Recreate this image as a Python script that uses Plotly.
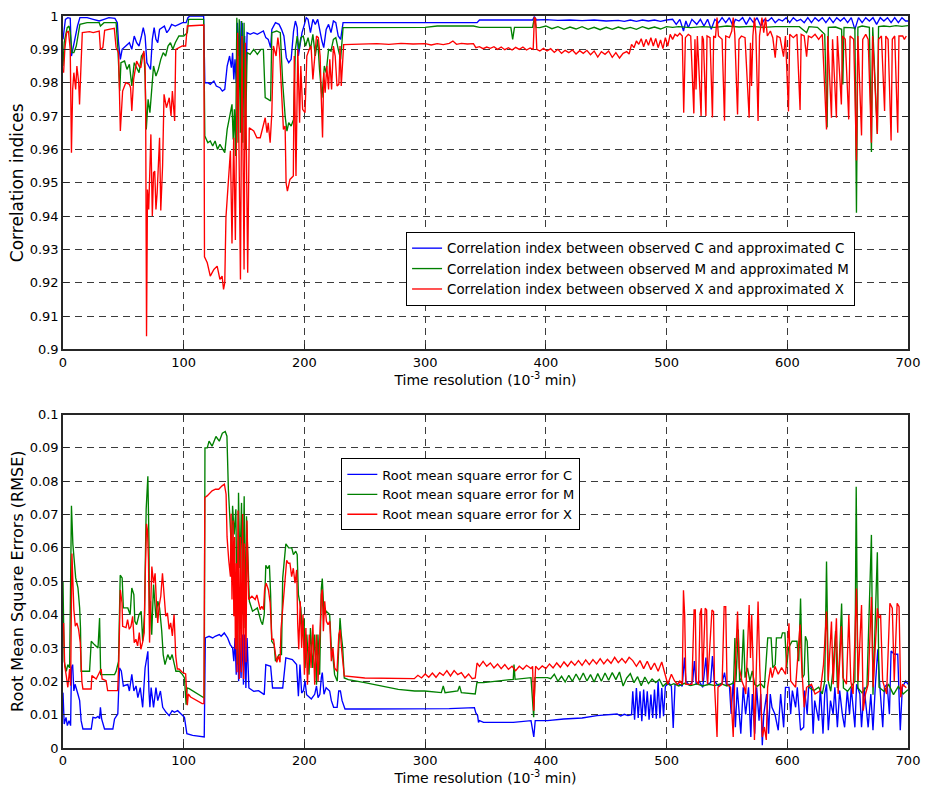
import plotly.graph_objects as go

# ---------------- tick definitions ----------------
x_ticks = [0, 100, 200, 300, 400, 500, 600, 700]
corr_ticks = [0.90, 0.91, 0.92, 0.93, 0.94, 0.95, 0.96, 0.97, 0.98, 0.99, 1.0]
corr_tick_labels = ["0.9", "0.91", "0.92", "0.93", "0.94", "0.95", "0.96", "0.97", "0.98", "0.99", "1"]
rmse_ticks = [0, 0.01, 0.02, 0.03, 0.04, 0.05, 0.06, 0.07, 0.08, 0.09, 0.1]
rmse_tick_labels = ["0", "0.01", "0.02", "0.03", "0.04", "0.05", "0.06", "0.07", "0.08", "0.09", "0.1"]

# ---------------- correlation index, C (blue) ----------------
corr_C = [(0,0.993),(1,0.997),(2,0.999),(4,0.9995),(6,0.9993),(7,0.988),(8,0.990),(10,0.993),(12,0.997),(14,0.9995),
(20,0.9995),(25,0.999),(30,0.9985),(34,0.999),(38,0.9995),(43,0.9993),(45,0.998),(46,0.992),(47.5,0.987),(49,0.990),
(52,0.991),(55,0.992),(57,0.990),(59,0.994),(61,0.992),(63,0.991),(65,0.994),(66.5,0.9965),(68,0.994),(69.5,0.986),
(71,0.985),(72.5,0.984),(74,0.993),(75.5,0.9965),(77,0.993),(78.5,0.992),(80,0.996),(82,0.9965),(84,0.997),(86,0.995),
(88,0.996),(90,0.9975),(93,0.997),(96,0.9975),(99,0.998),(102,0.998),(103.5,0.9995),(105,1.0),(116.5,1.0),(117.5,0.980),
(120,0.980),(122,0.9795),(125,0.9805),(127,0.979),(130,0.9785),(132,0.9775),(134,0.978),(136,0.985),(138,0.988),(139.5,0.9845),
(140.5,0.989),(141.5,0.981),(142.5,0.987),(143.5,0.980),(144.5,0.998),(145.5,0.988),(146.5,0.9985),(147.5,0.984),(148.5,0.998),(149.5,0.986),
(150.5,0.994),(151.5,0.979),(152.5,0.995),(155,0.9945),(158,0.995),(161,0.9945),(164,0.995),(166,0.9955),(168,0.9935),(170,0.993),
(172,0.9905),(173,0.996),(176,0.998),(179,0.9975),(181,0.996),(183,0.994),(185,0.9875),(187,0.986),(189,0.987),(191,0.9955),
(192.5,0.9985),(194,0.9965),(195,0.988),(196.5,0.992),(198,0.995),(200,0.9975),(201.5,0.9995),(203,0.999),(205,0.995),(207,0.999),
(209,0.9975),(211,0.999),(213,0.995),(214.5,0.9925),(216,0.9905),(218,0.996),(220,0.9975),(222,0.995),(224,0.9985),(226,0.998),
(228,0.994),(230,0.993),(232,0.998),(300,0.998),(343,0.998),(345,0.9988),(389,0.9988),(390.5,0.9998),(392,0.9988),(400,0.9989),
(410,0.9987),(420,0.9988),(430,0.9986),(440,0.9988),(450,0.9985),(460,0.9987),(465,0.9984),(470,0.9988),(475,0.9984),(480,0.9988),
(485,0.9985),(490,0.9988),(495,0.9984),(500,0.9988),(505,0.999),(508,0.9975),(511,0.999),(514,0.9955),(516,0.9985),(518,0.9965),
(521,0.999),(525,0.9975),(528,0.999),(531,0.997),(534,0.999),(537,0.996),(540,0.999),(543,0.998),(546,0.9995),(549,0.998),
(552,0.9995),(555,0.997),(557,0.999),(560,0.9985),(563,0.9995),(566,0.9975),(569,0.9995),(572,0.998),(575,0.9995),(578,0.997),
(581,0.999),(584,0.9985),(587,0.9995),(590,0.998),(593,0.999),(596,0.9985),(599,0.9995),(602,0.998),(605,0.9995),(608,0.9985),
(611,0.999),(614,0.998),(617,0.9995),(620,0.998),(623,0.9995),(626,0.9985),(629,0.9995),(632,0.998),(635,0.9995),(638,0.998),
(641,0.9995),(644,0.9985),(647,0.9995),(650,0.998),(653,0.9995),(656,0.996),(659,0.9995),(662,0.998),(665,0.9995),(668,0.9985),
(671,0.9995),(674,0.9975),(677,0.9995),(680,0.9985),(683,0.9995),(686,0.998),(689,0.9995),(692,0.998),(695,0.9995),(698,0.9985),(700,0.9985)]

# ---------------- correlation index, M (green) ----------------
corr_M = [(0,0.985),(1,0.992),(2,0.994),(3.5,0.9965),(5,0.997),(6,0.995),(7.5,0.989),(9,0.989),(11,0.991),(12.5,0.994),
(14,0.9975),(20,0.998),(30,0.998),(31,0.997),(34,0.998),(44,0.998),(45.5,0.990),(47,0.9775),(48,0.986),(51,0.9865),
(53,0.984),(55,0.9855),(57,0.979),(59,0.986),(61,0.9845),(63,0.983),(65,0.988),(67,0.989),(68,0.982),(69,0.966),
(70.5,0.975),(72,0.971),(73.5,0.978),(75,0.985),(77,0.982),(79,0.984),(81,0.987),(83,0.989),(85,0.988),(87,0.991),
(89,0.992),(91,0.990),(93,0.992),(96,0.994),(100,0.994),(103,0.995),(104,0.999),(116.5,0.999),(117.5,0.964),(120,0.962),
(122,0.9625),(124,0.961),(126,0.9625),(128,0.960),(130,0.9615),(132,0.960),(134,0.959),(136,0.966),(138,0.9695),(140,0.9735),
(141,0.963),(142,0.972),(143,0.958),(144,0.9995),(145,0.962),(146,0.999),(147,0.965),(148,0.9985),(149,0.962),(150,0.998),
(151,0.960),(152.5,0.989),(155,0.9885),(158,0.990),(161,0.9885),(164,0.990),(166,0.990),(167.5,0.9755),(170,0.975),(172,0.9745),
(173,0.995),(177,0.9955),(180,0.995),(182,0.980),(184,0.970),(185.5,0.9655),(187,0.968),(189,0.967),(191,0.969),(192.5,0.990),
(194,0.994),(195.5,0.990),(197,0.9935),(199,0.994),(201,0.991),(203,0.9935),(205,0.990),(207,0.9945),(209,0.988),(211,0.993),
(212.5,0.984),(214.5,0.9755),(216.5,0.985),(218,0.983),(220,0.990),(222,0.9895),(224,0.993),(226,0.9935),(228,0.990),(230,0.987),
(232,0.9965),(300,0.9966),(310,0.997),(340,0.997),(345,0.9966),(371,0.9966),(372.5,0.993),(374,0.9966),(389,0.9966),(390.5,0.9995),
(392,0.9966),(395,0.9965),(400,0.997),(405,0.9962),(410,0.9968),(415,0.996),(420,0.9967),(425,0.9961),(430,0.9968),(435,0.996),
(440,0.9966),(445,0.9959),(450,0.9966),(455,0.996),(460,0.9967),(465,0.9961),(470,0.9966),(475,0.996),(480,0.9968),(485,0.9962),
(490,0.9967),(495,0.9961),(500,0.9968),(505,0.9966),(510,0.9968),(520,0.9965),(530,0.9968),(540,0.9966),(550,0.997),(560,0.9967),
(570,0.9969),(580,0.9966),(590,0.9968),(600,0.9967),(610,0.9968),(616,0.995),(618,0.9968),(625,0.9966),(631,0.9945),(633,0.9666),
(634,0.9966),(640,0.9967),(645,0.996),(646,0.9795),(647,0.9966),(652,0.9965),(656,0.9964),(657.3,0.941),(658.5,0.9966),(662,0.997),
(668,0.9966),(669.7,0.9592),(670.8,0.9966),(674.6,0.9646),(675.6,0.9968),(680,0.997),(685,0.9968),(690,0.9971),(695,0.9969),(700,0.9971)]

# ---------------- correlation index, X (red) ----------------
corr_X = [(0.5,0.983),(1.5,0.990),(3,0.995),(4.5,0.9955),(6,0.990),(7,0.959),(8,0.978),(9,0.983),(10.5,0.978),(11.5,0.985),
(13,0.980),(13.7,0.9735),(15,0.986),(16,0.995),(22,0.9953),(25,0.995),(30,0.9955),(31,0.990),(33,0.9905),(34.5,0.9957),
(38,0.996),(42.5,0.9963),(44,0.9905),(46,0.989),(47.5,0.9655),(49.4,0.9775),(52,0.980),(55,0.9795),(56,0.9785),(57,0.9715),
(58.5,0.981),(61,0.9865),(63,0.985),(64.5,0.9845),(66,0.988),(67,0.9895),(68,0.985),(68.5,0.970),(69.2,0.904),(70,0.948),
(71,0.942),(72.8,0.9645),(74,0.940),(75,0.953),(76,0.9535),(77,0.942),(78,0.947),(80,0.9635),(81,0.9417),(82.5,0.955),
(83.7,0.9765),(85.7,0.9725),(88,0.9755),(89.5,0.970),(90.6,0.9775),(92.5,0.9685),(93.4,0.990),(96,0.9905),(98.8,0.991),(101.6,0.991),
(103,0.997),(116.7,0.9973),(117.2,0.9278),(119.5,0.926),(122,0.922),(125,0.924),(127.7,0.925),(130,0.921),(131.8,0.922),(133,0.918),
(134,0.920),(135,0.9397),(137.3,0.9516),(138.7,0.9596),(140,0.9318),(141.4,0.9635),(142.8,0.9328),(144.7,0.995),(147,0.921),(148.3,0.994),
(150,0.924),(151,0.992),(153,0.923),(154.3,0.9665),(158,0.9655),(160.6,0.9635),(163.4,0.9635),(165.5,0.967),(167.5,0.9695),(169,0.965),
(170,0.968),(171.6,0.962),(173,0.971),(174.3,0.991),(176.5,0.988),(178,0.9935),(179.3,0.990),(182.6,0.966),(184,0.967),(184.8,0.950),
(185.9,0.9475),(188,0.951),(190.8,0.952),(191.6,0.988),(193,0.952),(194.5,0.990),(196,0.968),(197,0.985),(198.5,0.972),(200.5,0.971),
(202,0.988),(204,0.990),(205.5,0.991),(207,0.981),(208.5,0.987),(210,0.994),(211.5,0.9935),(213,0.988),(214,0.975),(215,0.9636),
(216,0.983),(217.2,0.977),(218.5,0.985),(220,0.978),(221,0.987),(222.5,0.978),(224,0.991),(225.5,0.988),(227,0.979),(228.5,0.9795),
(229.5,0.991),(230.5,0.979),(232.5,0.9914),(260,0.9917),(270,0.9915),(280,0.9918),(290,0.9916),(300,0.9917),(305,0.9913),(310,0.9917),
(315,0.9914),(320,0.9918),(323,0.9925),(326,0.9915),(330,0.9918),(335,0.9916),(340,0.9917),(342,0.9905),(345,0.9908),(348,0.9902),
(351,0.9907),(354,0.9903),(357,0.9908),(360,0.990),(363,0.9907),(366,0.9899),(369,0.9905),(372,0.9898),(375,0.9906),(378,0.990),
(381,0.9907),(384,0.9898),(387,0.9904),(389.5,0.990),(390.5,0.9995),(391.5,0.9993),(392.5,0.990),(395,0.9895),(398,0.9903),(401,0.9895),
(404,0.9902),(407,0.9891),(410,0.990),(413,0.9888),(416,0.9897),(419,0.989),(422,0.9898),(425,0.9886),(428,0.9896),(431,0.9888),
(434,0.9897),(437,0.9884),(440,0.9895),(443,0.9877),(446,0.9893),(449,0.9885),(452,0.9895),(455,0.9876),(458,0.989),(461,0.9874),
(464,0.9888),(467,0.9893),(469,0.9886),(471,0.9915),(473,0.9905),(475,0.9925),(477,0.9915),(479,0.9932),(481,0.9908),(483,0.993),
(485,0.9912),(487,0.9935),(489,0.991),(491,0.9933),(493,0.9905),(495,0.9928),(497,0.9902),(499,0.9935),(501,0.991),(503,0.9945),
(505,0.993),(507,0.9945),(509,0.994),(511,0.9948),(513,0.994),(514.2,0.971),(515.6,0.9935),(518,0.9945),(520,0.994),(522.6,0.9708),
(523.5,0.993),(524.4,0.978),(525.5,0.994),(528.6,0.970),(529.5,0.994),(530.5,0.993),(532.6,0.970),(533.5,0.994),(536,0.9935),(538,0.9696),
(539,0.994),(540.5,0.9935),(541.8,0.9995),(543,0.994),(546,0.993),(548,0.9686),(549,0.994),(552,0.9935),(554,0.9955),(555.2,0.9995),
(556.5,0.9945),(558.8,0.9705),(560,0.993),(562,0.994),(565,0.9935),(568.4,0.9695),(569.5,0.992),(570.4,0.979),(571.5,0.994),(572.8,0.9995),
(574,0.9945),(575.8,0.9685),(577,0.994),(579,0.9995),(580.5,0.995),(582,0.9995),(583.5,0.994),(586,0.9955),(588,0.9935),(590,0.9875),
(591.5,0.994),(594,0.9935),(596.9,0.9878),(598.5,0.994),(601,0.9714),(602,0.9945),(605,0.9935),(608,0.9945),(610.6,0.9718),(611.5,0.9945),
(614,0.994),(616,0.9878),(617.5,0.994),(620,0.9935),(623,0.9945),(626,0.993),(629,0.9945),(632.5,0.966),(633.5,0.994),(636.6,0.9695),
(637.5,0.993),(640.7,0.9695),(641.5,0.994),(644.8,0.9735),(645.8,0.994),(648,0.993),(650.9,0.969),(652,0.994),(655,0.993),(657.3,0.9567),
(658.5,0.994),(661.5,0.9642),(662.5,0.993),(665,0.9945),(667,0.993),(669.7,0.962),(670.7,0.994),(674.6,0.9646),(675.6,0.993),(678,0.994),
(680.6,0.9715),(681.6,0.994),(683.5,0.993),(686,0.9627),(687,0.993),(689,0.994),(691.5,0.965),(692.5,0.994),(695.6,0.994),(697,0.993),(698.6,0.994)]

# ---------------- RMSE, C (blue) ----------------
rmse_C = [(0,0.0166),(1,0.0072),(2.5,0.0092),(3.6,0.0067),(5,0.0082),(6.3,0.0067),(7,0.024),(8,0.025),(9,0.0171),(10,0.0191),
(12.4,0.0161),(13.8,0.0142),(15,0.0082),(16.5,0.0057),(23.4,0.0057),(24.8,0.0092),(27,0.0090),(29,0.0095),(30.3,0.0088),(31,0.0122),
(32,0.0087),(34.4,0.0057),(41.3,0.0057),(42.7,0.0087),(45.4,0.0102),(46.8,0.024),(48.3,0.0231),(50,0.0186),(53.7,0.0191),(55,0.0171),
(57,0.0221),(58.7,0.0171),(60.5,0.0186),(62,0.0151),(64,0.0181),(66,0.0122),(68,0.024),(70.3,0.029),(71.2,0.0171),(72,0.0122),
(73,0.0181),(75,0.0122),(77,0.0181),(78.5,0.0142),(80.7,0.0171),(82.6,0.0122),(85.4,0.0107),(88,0.0097),(90.4,0.0112),(92.3,0.0107),
(95,0.0112),(97.8,0.0102),(100.6,0.0092),(102.6,0.0043),(107.4,0.0038),(117,0.0033),(117.9,0.033),(121,0.0335),(124,0.033),(126,0.0335),
(129.5,0.034),(131,0.0335),(133.6,0.0345),(136.4,0.033),(138.5,0.031),(140.5,0.030),(141.5,0.026),(142.5,0.033),(143.5,0.022),(144.5,0.034),
(145.5,0.020),(146.5,0.033),(147.5,0.021),(148.5,0.034),(149.5,0.019),(150.5,0.034),(151.5,0.018),(152.5,0.033),(154,0.018),(158,0.017),
(162,0.0172),(166.7,0.016),(168,0.025),(172,0.0245),(173.6,0.018),(182,0.018),(184.6,0.027),(190,0.0265),(193.5,0.025),(195,0.0155),
(196.3,0.025),(197.7,0.0165),(199.2,0.0172),(200.5,0.0201),(201.8,0.016),(203,0.0156),(205.7,0.0147),(208.5,0.0161),(210,0.0186),(211.3,0.0151),
(212.8,0.0161),(214,0.0211),(214.8,0.0226),(216.2,0.0161),(218,0.0181),(220.9,0.0171),(222.3,0.0142),(224.2,0.0122),(227.1,0.0122),(228.4,0.0171),
(229.8,0.0171),(231.2,0.0142),(233.6,0.0117),(250,0.0117),(277.7,0.0117),(300,0.0116),(320,0.0118),(340.8,0.0121),(342,0.0105),(343.5,0.0097),
(344.2,0.0077),(345,0.0082),(348.4,0.0077),(373,0.0077),(387.7,0.0082),(390,0.0033),(391.2,0.0082),(401.3,0.0082),(414.8,0.0087),(430,0.0090),
(442.3,0.0097),(459,0.0102),(462,0.0096),(465,0.0101),(468,0.0097),(471,0.0100),(472,0.0170),(473.5,0.0085),(475,0.0180),(476.5,0.0090),
(478,0.0170),(479.5,0.0080),(481,0.0175),(482.5,0.0095),(484,0.0170),(485.5,0.0085),(487,0.0160),(488.5,0.0090),(490,0.0175),(491.5,0.0088),
(493,0.0200),(494.5,0.0089),(496,0.0180),(497.5,0.0095),(499,0.0185),(502,0.0195),(504,0.0185),(505.5,0.0060),(507,0.019),(510,0.0193),
(513,0.0185),(514.8,0.0271),(516,0.020),(519,0.0188),(521.7,0.0201),(523,0.0261),(524.5,0.0191),(527,0.020),(530,0.0182),(532.6,0.0271),
(534,0.0191),(536.5,0.0196),(538,0.0276),(539.5,0.0201),(543,0.0186),(546,0.0195),(548,0.0226),(549.5,0.0191),(552,0.0191),(553.5,0.0102),
(555.2,0.0201),(557,0.0062),(558.5,0.0182),(561.5,0.0043),(563.5,0.0182),(565.5,0.0101),(567.9,0.0182),(569.8,0.0033),(571,0.0162),(573,0.0043),
(574.6,0.0182),(576.6,0.0082),(578,0.0162),(579.3,0.0008),(580.5,0.0101),(582.9,0.0162),(584.5,0.0043),(585.9,0.0162),(587.3,0.0122),(589.8,0.0101),
(592.5,0.0053),(594.5,0.0162),(597,0.0062),(598.5,0.0182),(601.4,0.0182),(602.8,0.0101),(604.2,0.0172),(606.9,0.0122),(608.3,0.0182),(611,0.0053),
(613.6,0.0062),(614.4,0.0172),(616.5,0.0101),(617.8,0.0191),(620,0.0182),(621.4,0.0043),(622.7,0.0142),(626,0.0082),(627.4,0.0182),(629.6,0.0043),
(631,0.0162),(632.5,0.0191),(634,0.0053),(635.8,0.0142),(638,0.0101),(639.4,0.0182),(641.5,0.0062),(643.4,0.0172),(645.6,0.0101),(647.5,0.0062),
(649.7,0.0172),(651.6,0.0101),(653,0.0182),(656,0.0062),(657.4,0.0191),(660.1,0.0162),(661.5,0.0062),(663.7,0.0182),(665.6,0.0101),(667,0.0062),
(669.2,0.0162),(671,0.0053),(673,0.0191),(675,0.0296),(676.4,0.0201),(679.1,0.0062),(680.5,0.0182),(682.7,0.0191),(684.6,0.0101),(686,0.0291),
(688.7,0.0281),(691.5,0.0281),(692.9,0.0122),(693.6,0.0053),(695.3,0.0182),(698.1,0.0201),(700,0.0191)]

# ---------------- RMSE, M (green) ----------------
rmse_M = [(0,0.0498),(1,0.026),(2.7,0.023),(4,0.025),(5.5,0.024),(6.3,0.054),(7,0.0726),(8.2,0.061),(9.6,0.055),(10.5,0.051),
(12.4,0.048),(13.8,0.042),(14.5,0.036),(15,0.023),(22,0.023),(23.4,0.032),(26,0.031),(29,0.030),(30.3,0.039),(31.2,0.022),
(42.7,0.022),(44,0.023),(46,0.026),(47.4,0.0518),(49,0.051),(50,0.042),(53.7,0.042),(55.6,0.040),(57,0.048),(58.7,0.046),
(59.5,0.038),(61,0.037),(63,0.040),(64.8,0.041),(66,0.032),(67.5,0.040),(68.9,0.0716),(70.3,0.0815),(71.2,0.062),(71.6,0.040),
(72.5,0.044),(73.5,0.034),(75,0.049),(75.8,0.045),(77,0.039),(78.5,0.044),(80,0.042),(81.8,0.035),(83,0.028),(84.5,0.025),
(86.8,0.028),(88.7,0.0265),(90.4,0.028),(92.3,0.025),(93.5,0.023),(96.4,0.023),(99,0.022),(100.6,0.021),(102,0.013),(102.8,0.018),
(104.5,0.0178),(117,0.015),(117.6,0.090),(119.5,0.090),(121,0.092),(123.5,0.0905),(126.7,0.0934),(129.5,0.092),(132,0.0944),(134.4,0.0949),
(135.8,0.0935),(137,0.0775),(138.4,0.068),(139.7,0.0587),(140.5,0.0726),(141.8,0.064),(143.2,0.0716),(143.7,0.0537),(144.6,0.025),(145.4,0.0765),
(146.5,0.054),(147.9,0.0735),(148.7,0.040),(150.1,0.0755),(150.9,0.036),(152,0.0695),(152.8,0.059),(154.4,0.044),(157,0.041),(161,0.042),
(164,0.038),(165.3,0.037),(166.7,0.040),(168,0.0548),(169.5,0.0538),(171,0.0548),(172,0.046),(172.9,0.032),(174.9,0.031),(176,0.026),
(179,0.028),(181,0.028),(182,0.051),(184.6,0.0612),(187,0.060),(189.5,0.060),(190.9,0.058),(192.8,0.059),(194,0.058),(195,0.046),
(197,0.042),(198.3,0.034),(199.7,0.039),(200.5,0.024),(202,0.034),(203.8,0.022),(205,0.036),(206.9,0.024),(208.5,0.034),(210,0.019),
(211.2,0.034),(212.6,0.022),(214,0.0478),(214.8,0.0508),(216.2,0.040),(218.1,0.041),(220.9,0.040),(222.3,0.030),(223.7,0.027),(225,0.022),
(227.2,0.020),(229.5,0.039),(230.5,0.034),(231.7,0.030),(233,0.021),(236.4,0.0205),(250,0.0196),(264,0.0186),(277.7,0.0176),(291.4,0.0171),
(299.6,0.0171),(313.4,0.0166),(315,0.0186),(316.5,0.0166),(327,0.0171),(328.5,0.0186),(330,0.0166),(341.5,0.0162),(342.9,0.0196),(348.4,0.0196),
(359.4,0.0201),(373,0.0206),(373.6,0.025),(374.5,0.0206),(387.7,0.0211),(389.9,0.0092),(391,0.0211),(401.3,0.0211),(404,0.0208),(407,0.0221),
(410,0.020),(413,0.0215),(416,0.0198),(419,0.0218),(422,0.020),(425,0.0222),(428,0.0203),(431,0.0225),(434,0.0201),(437,0.022),
(440,0.0198),(443,0.0223),(446,0.020),(449,0.0225),(452,0.0203),(455,0.0226),(458,0.0205),(461,0.0228),(464,0.0186),(467,0.021),
(470,0.0223),(473,0.0196),(476,0.0214),(479,0.0187),(482,0.0213),(485,0.0193),(488,0.0207),(491,0.0196),(494,0.0206),(497,0.0185),
(500,0.0195),(503,0.0188),(506,0.0193),(510,0.0186),(515,0.0194),(520,0.0187),(525,0.0192),(530,0.0186),(535,0.0191),(540,0.0187),
(545,0.0193),(550,0.0186),(553,0.0191),(555.5,0.0195),(556.6,0.033),(557.5,0.020),(559.4,0.0355),(560.5,0.020),(562,0.021),(563.7,0.0355),
(565,0.0211),(567,0.024),(569,0.0201),(571,0.0231),(573,0.0191),(575,0.0185),(578,0.0193),(581,0.018),(583.8,0.033),(586.6,0.033),
(588,0.0241),(590,0.025),(591,0.033),(595,0.033),(596,0.0345),(598,0.0345),(599.5,0.024),(601,0.030),(604,0.032),(608,0.032),
(609.5,0.026),(611,0.0448),(612.5,0.021),(614,0.022),(615,0.0335),(616.5,0.032),(618,0.0182),(622,0.0172),(626,0.0182),(629,0.0162),
(631,0.020),(632.5,0.0559),(634,0.020),(636,0.017),(638,0.024),(640,0.0351),(641.5,0.018),(643,0.025),(645,0.0433),(646.5,0.018),
(650,0.017),(654,0.019),(656,0.020),(657.1,0.0783),(658.5,0.018),(662,0.0165),(666,0.0185),(669.7,0.0639),(671,0.016),(674.6,0.0587),
(676,0.0182),(680,0.017),(684,0.019),(688,0.016),(692,0.0185),(696,0.0162),(700,0.0175)]

# ---------------- RMSE, X (red) ----------------
rmse_X = [(0.5,0.0375),(1.4,0.0247),(2.7,0.0217),(4,0.0182),(5.5,0.0237),(6.3,0.0187),(7.4,0.0583),(8.2,0.0455),(9,0.0415),(10.2,0.0365),
(11.5,0.0375),(12.9,0.0356),(14.3,0.0316),(15.7,0.0197),(16.5,0.0177),(23.3,0.0177),(23.9,0.0217),(27.5,0.0207),(31.6,0.0237),(32.4,0.0207),
(35.7,0.0202),(37,0.0172),(45.3,0.0172),(46.1,0.0242),(47.5,0.0474),(48.9,0.0435),(49.4,0.0365),(52.2,0.0361),(53.5,0.0385),(54.9,0.0356),
(56.3,0.0365),(57.7,0.0395),(59,0.0316),(60.4,0.0326),(61.8,0.0306),(63.2,0.0346),(64.5,0.0296),(65.9,0.0316),(67.3,0.0346),(68.1,0.0514),
(69.2,0.0672),(70,0.0653),(70.8,0.0563),(71.7,0.0316),(72.8,0.0435),(73.6,0.0544),(75,0.0494),(76.3,0.0524),(77.4,0.0435),(78.5,0.0375),
(79.6,0.0425),(81,0.0455),(82.4,0.0524),(83.7,0.0455),(85.1,0.0395),(86.5,0.0405),(87.9,0.0356),(89.2,0.0375),(90.6,0.0336),(92,0.040),
(93.4,0.0276),(94.7,0.0237),(96.1,0.0237),(98.8,0.0227),(101.6,0.0222),(103,0.0128),(103.8,0.0162),(105.7,0.0153),(115.3,0.0133),(116.7,0.0133),
(117.5,0.0751),(119.4,0.0756),(122.2,0.0766),(123.5,0.0771),(126.3,0.0776),(129,0.0776),(131.8,0.0786),(133.7,0.0791),(135.1,0.0761),(135.9,0.0633),
(137.3,0.0563),(138.7,0.0514),(139.2,0.0702),(140,0.0445),(140.9,0.0682),(141.5,0.0395),(142.2,0.0633),(142.8,0.0296),(143.6,0.0554),(144.2,0.0227),
(145,0.0712),(146,0.0207),(146.9,0.0633),(147.7,0.0227),(148.8,0.0702),(149.6,0.0207),(150.4,0.0613),(151.6,0.0257),(152.4,0.0682),(153.8,0.0445),
(156.5,0.0455),(159.2,0.0445),(160.6,0.0459),(162,0.0435),(163.4,0.0415),(164.7,0.0425),(166.1,0.0415),(167,0.0474),(168.3,0.0494),(170.2,0.0474),
(171.6,0.0435),(173,0.0326),(174.4,0.0326),(175.8,0.0286),(177.1,0.0257),(178.5,0.0276),(179.8,0.0257),(180.6,0.0356),(181.8,0.0415),(182.6,0.0435),
(184,0.0514),(185.3,0.0563),(186.7,0.0554),(188,0.0554),(189.4,0.0514),(190.8,0.0539),(192.2,0.0494),(193.6,0.0534),(194.4,0.0375),(195.3,0.0296),
(196.5,0.044),(197.7,0.030),(198.8,0.040),(200,0.022),(201.2,0.036),(202.5,0.019),(204,0.034),(205.5,0.024),(207,0.037),(208.5,0.019),
(210,0.034),(211.3,0.020),(212.7,0.033),(214,0.046),(214.8,0.0475),(215.7,0.035),(216.8,0.044),(218.2,0.038),(219.6,0.037),(221,0.038),
(222.3,0.026),(223.6,0.030),(225,0.024),(227,0.023),(228.5,0.034),(229.6,0.0355),(230.7,0.030),(231.8,0.026),(233,0.0216),(250,0.021),
(270,0.0208),(291,0.0208),(294,0.0218),(297,0.021),(300,0.0222),(303,0.0212),(306,0.0225),(309,0.0212),(312,0.0226),(315,0.0218),
(318,0.0232),(321,0.0216),(324,0.0232),(327,0.022),(330,0.0226),(333,0.021),(336,0.0222),(339,0.0208),(341.5,0.021),(343,0.0255),
(345,0.0245),(348,0.026),(351,0.0245),(354,0.0255),(357,0.024),(360,0.0252),(363,0.0238),(366,0.025),(369,0.0236),(372,0.0245),
(375,0.0232),(378,0.0245),(381,0.0236),(384,0.0248),(387.7,0.0238),(389,0.0245),(390,0.0112),(391.5,0.0245),(394,0.0235),(397,0.0246),
(400,0.0238),(403,0.0252),(406,0.024),(409,0.0255),(412,0.0242),(415,0.0258),(418,0.0245),(421,0.026),(424,0.0248),(427,0.0262),
(430,0.0248),(433,0.0264),(436,0.025),(439,0.0265),(442,0.0252),(445,0.0268),(448,0.0252),(451,0.0266),(454,0.0254),(457,0.0272),
(460,0.0256),(463,0.0268),(466,0.0255),(469,0.0272),(472,0.0262),(475,0.0245),(478,0.0262),(481,0.0238),(484,0.026),(487,0.0235),
(490,0.0255),(493,0.023),(496,0.0258),(499,0.0215),(501,0.0191),(504,0.0221),(506.6,0.0201),(509,0.0191),(511,0.0201),(513,0.0191),
(514,0.0473),(515,0.0399),(516,0.0191),(521,0.0191),(522.8,0.0414),(523.8,0.0414),(524.6,0.0201),(526.5,0.0191),(527.8,0.0404),(528.9,0.0419),
(529.8,0.0201),(532,0.0419),(533.2,0.0414),(534,0.0191),(537.6,0.0414),(538.9,0.0409),(539.7,0.0191),(541.8,0.0033),(542.6,0.0182),(546,0.0191),
(547.7,0.0424),(549,0.0424),(550.1,0.0191),(553,0.0182),(555.2,0.0033),(556.3,0.0182),(558.8,0.0409),(560.2,0.0241),(562.4,0.0201),(564.3,0.0182),
(565.6,0.0162),(568.4,0.0429),(569.5,0.0270),(570.5,0.0399),(571.6,0.0260),(572.8,0.0024),(573.9,0.0201),(575.8,0.0439),(577.2,0.0241),(579.3,0.0033),
(581,0.0063),(582.6,0.0024),(583.7,0.0182),(586.1,0.0241),(587.5,0.0211),(589.8,0.0245),(592.5,0.0221),(595.3,0.0241),(598.6,0.0221),(601.4,0.0374),
(602.8,0.0201),(606.9,0.0182),(610.6,0.0370),(612,0.0241),(614,0.0122),(616,0.0182),(620,0.0191),(623,0.0162),(627.4,0.0172),(630,0.0250),
(632.5,0.0409),(633.9,0.0201),(636.6,0.0379),(638,0.0191),(640.7,0.0389),(642.1,0.0162),(644.8,0.0365),(646.1,0.0211),(649,0.0191),(651,0.0399),
(652.6,0.0201),(654.5,0.0162),(657.3,0.0478),(658.7,0.0201),(661.5,0.0429),(662.9,0.0112),(664.8,0.0162),(667,0.0191),(669.7,0.0453),(671.1,0.0182),
(674.6,0.0419),(675.7,0.0389),(677.3,0.0399),(679,0.0201),(682.3,0.0162),(685,0.0434),(687,0.0419),(688.6,0.0201),(691,0.0434),(692.6,0.0424),
(694,0.0152),(695.4,0.0191),(698.6,0.0181)]

# ---------------- figure ----------------
BLUE, GREEN, RED = "#0000ff", "#008000", "#ff0000"
LW = 1.35
FONT = "DejaVu Sans"

def xy(pairs):
    return [p[0] for p in pairs], [p[1] for p in pairs]

fig = go.Figure()
top_series = [
    (corr_C, BLUE, "Correlation index between observed C and approximated C"),
    (corr_M, GREEN, "Correlation index between observed M and approximated M"),
    (corr_X, RED, "Correlation index between observed X and approximated X"),
]
for data, col, name in top_series:
    xs, ys = xy(data)
    fig.add_trace(go.Scatter(x=xs, y=ys, mode="lines", name=name, line=dict(color=col, width=LW),
                             xaxis="x", yaxis="y", legend="legend", hoverinfo="skip"))
bottom_series = [
    (rmse_C, BLUE, "Root mean square error for C"),
    (rmse_M, GREEN, "Root mean square error for M"),
    (rmse_X, RED, "Root mean square error for X"),
]
for data, col, name in bottom_series:
    xs, ys = xy(data)
    fig.add_trace(go.Scatter(x=xs, y=ys, mode="lines", name=name, line=dict(color=col, width=LW),
                             xaxis="x2", yaxis="y2", legend="legend2", hoverinfo="skip"))

axis_common = dict(
    showline=True, linecolor="#262626", linewidth=1.5, mirror="ticks",
    ticks="inside", ticklen=6, tickwidth=1, tickcolor="#262626",
    showgrid=True, gridcolor="#3c3c3c", gridwidth=1, griddash="7px,5px",
    zeroline=False, tickfont=dict(family=FONT, size=13, color="black"),
)
xtitle = "Time resolution (10<sup>-3</sup> min)"

fig.update_layout(
    width=929, height=796,
    margin=dict(l=63, r=16, t=9, b=48),
    paper_bgcolor="white", plot_bgcolor="white",
    font=dict(family=FONT, size=13, color="black"),
    xaxis=dict(axis_common, domain=[0, 1], range=[0, 700], tickvals=x_ticks, anchor="y",
               title=dict(text=xtitle, font=dict(family=FONT, size=14), standoff=5)),
    yaxis=dict(axis_common, domain=[0.5444, 1], range=[0.9, 1.0], tickvals=corr_ticks,
               ticktext=corr_tick_labels, anchor="x",
               title=dict(text="Correlation indices", font=dict(family=FONT, size=17), standoff=2)),
    xaxis2=dict(axis_common, domain=[0, 1], range=[0, 700], tickvals=x_ticks, anchor="y2",
                title=dict(text=xtitle, font=dict(family=FONT, size=14), standoff=5)),
    yaxis2=dict(axis_common, domain=[0, 0.4556], range=[0, 0.1], tickvals=rmse_ticks,
                ticktext=rmse_tick_labels, anchor="x2",
                title=dict(text="Root Mean Square Errors (RMSE)", font=dict(family=FONT, size=16), standoff=2)),
    legend=dict(x=0.406, y=0.705, xanchor="left", yanchor="top", bgcolor="white",
                bordercolor="black", borderwidth=1, font=dict(family=FONT, size=13.4),
                tracegroupgap=0),
    legend2=dict(x=0.3294, y=0.3955, xanchor="left", yanchor="top", bgcolor="white",
                 bordercolor="black", borderwidth=1, font=dict(family=FONT, size=13),
                 tracegroupgap=0),
    showlegend=True,
)

fig.write_html("out.html")
